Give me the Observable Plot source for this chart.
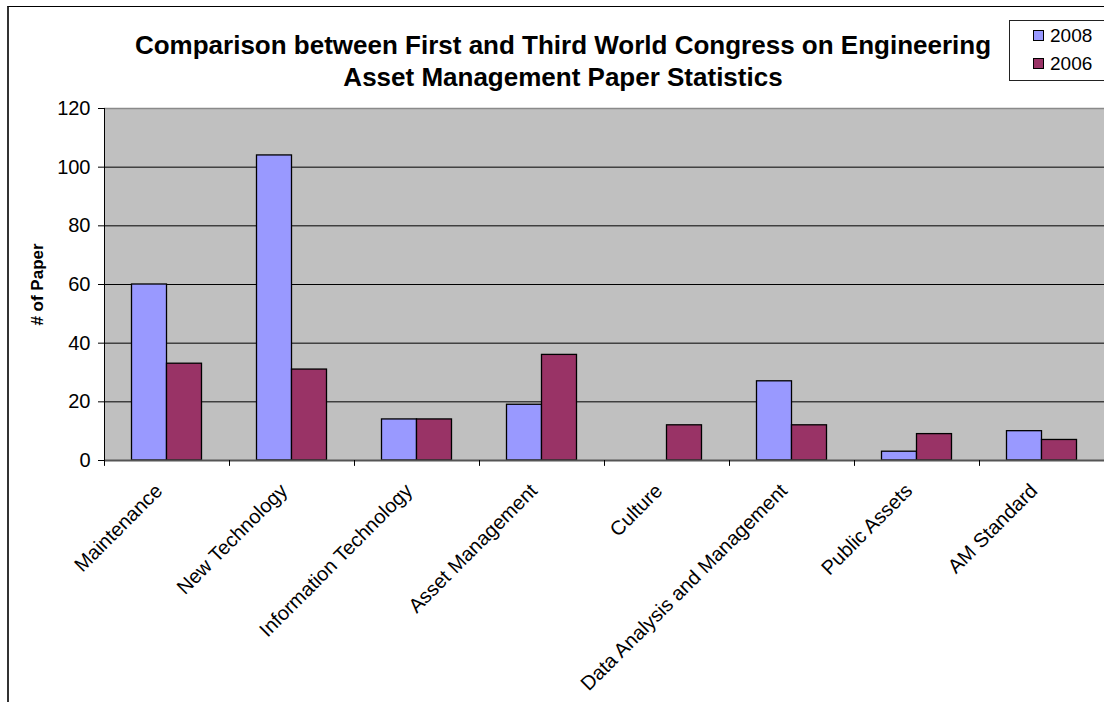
<!DOCTYPE html>
<html>
<head>
<meta charset="utf-8">
<script src="https://cdn.jsdelivr.net/npm/d3@7"></script>
<script src="https://cdn.jsdelivr.net/npm/@observablehq/plot@0.6"></script>
<style>
  body { margin: 0; background: #fff; font-family: "Liberation Sans", Arial, sans-serif; }
  #wrap { position: relative; width: 1104px; height: 702px; overflow: hidden; }
  #border { position: absolute; left: 7px; top: 6px; width: 1200px; height: 800px; border-left: 2px solid #333; border-top: 1px solid #000; }
  #title { position: absolute; left: 0; top: 29px; width: 1126px; text-align: center; font-weight: bold; font-size: 26px; line-height: 32px; color: #000; }
  #chart { position: absolute; left: 0; top: 100px; }
  #legend { position: absolute; left: 1009px; top: 20px; width: 120px; height: 59px; border: 1px solid #222; background: #fff; font-size: 19px; }
  .item { position: absolute; left: 23px; height: 20px; line-height: 20px; }
  .sw { display: inline-block; width: 9px; height: 9px; border: 1px solid #000; margin-right: 6px; vertical-align: 1px; }
  #chart svg g[aria-label="y-axis label"] text { font-weight: bold; font-size: 17px; }
</style>
</head>
<body>
<div id="wrap">
  <div id="border"></div>
  <div id="title">Comparison between First and Third World Congress on Engineering<br>Asset Management Paper Statistics</div>
  <div id="chart"></div>
  <div id="legend"></div>
</div>
<script>
const categories = ["Maintenance", "New Technology", "Information Technology", "Asset Management", "Culture", "Data Analysis and Management", "Public Assets", "AM Standard"];
const values2008 = [60, 104, 14, 19, 0, 27, 3, 10];
const values2006 = [33, 31, 14, 36, 12, 12, 9, 7];
const seriesNames = ["2008", "2006"];
const seriesColors = ["#9999FF", "#993366"];
const yTicks = [0, 20, 40, 60, 80, 100, 120];

const rows2008 = categories.map((c, i) => ({cat: c, v: values2008[i]}));
const rows2006 = categories.map((c, i) => ({cat: c, v: values2006[i]}));

const chart = Plot.plot({
  width: 1104,
  height: 602,
  marginTop: 8,
  marginLeft: 104,
  marginRight: 0,
  marginBottom: 242,
  style: {fontFamily: "Liberation Sans, Arial, sans-serif", fontSize: "20px", background: "transparent", overflow: "visible", color: "#000"},
  x: {domain: categories, padding: 0},
  y: {domain: [0, 120], ticks: yTicks},
  marks: [
    Plot.frame({fill: "#C0C0C0", stroke: "none"}),
    Plot.ruleY(yTicks.filter(t => t > 0 && t < 120), {stroke: "#000", strokeWidth: 1}),
    Plot.ruleY([120], {stroke: "#8a8a8a", strokeWidth: 1.5}),
    Plot.barY(rows2008.filter(d => d.v > 0), {x: "cat", y: "v", fill: seriesColors[0], stroke: "#000", strokeWidth: 1.3, insetLeft: 27.5, insetRight: 62.5}),
    Plot.barY(rows2006, {x: "cat", y: "v", fill: seriesColors[1], stroke: "#000", strokeWidth: 1.3, insetLeft: 62.5, insetRight: 27.5}),
    Plot.ruleY([0], {stroke: "#555", strokeWidth: 2}),
    Plot.ruleX([categories[0]], {x: d => d, dx: -62.5, y1: 0, y2: 120, stroke: "#000", strokeWidth: 1}),
    Plot.ruleX(categories, {x: d => d, dx: -62.5, y1: 0, y2: -2, stroke: "#000", strokeWidth: 1}),
    Plot.axisY({ticks: yTicks, tickSize: 6, tickPadding: 8, fontSize: 20, label: "# of Paper", labelAnchor: "center", labelArrow: "none", labelOffset: 74}),
    Plot.axisX({tickSize: 0, tickPadding: 27, dx: -8, tickRotate: -45, fontSize: 20, label: null})
  ]
});
document.getElementById("chart").appendChild(chart);

const legend = document.getElementById("legend");
seriesNames.forEach((name, i) => {
  const item = document.createElement("div");
  item.className = "item";
  item.style.top = (5 + i * 28) + "px";
  item.innerHTML = `<span class="sw" style="background:${seriesColors[i]}"></span>${name}`;
  legend.appendChild(item);
});
</script>
</body>
</html>
